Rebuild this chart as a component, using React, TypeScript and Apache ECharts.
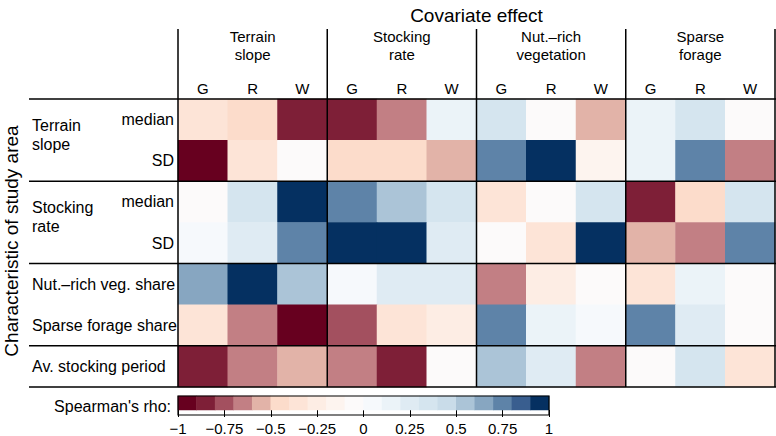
import React, { useEffect, useRef } from "react";
import * as echarts from "echarts";

// ---- data ----
const groups = ["Terrain\nslope", "Stocking\nrate", "Nut.–rich\nvegetation", "Sparse\nforage"];
const letters = ["G", "R", "W"];
const rowKeys = ["ts_median", "ts_sd", "sr_median", "sr_sd", "nut", "sparse", "period"];
const rowLabels = ["median", "SD", "median", "SD", "Nut.–rich veg. share", "Sparse forage share", "Av. stocking period"];
const rowGroupLabels = ["Terrain\nslope", "Stocking\nrate"];
const rowGroupStart = [0, 2];

const terrainSlopeMedian = [-0.35, -0.45, -0.85, -0.85, -0.65, 0.15, 0.35, -0.05, -0.55, 0.15, 0.35, -0.05];
const terrainSlopeSD = [-0.95, -0.35, -0.05, -0.45, -0.45, -0.55, 0.75, 0.95, -0.15, 0.15, 0.75, -0.65];
const stockingRateMedian = [-0.05, 0.35, 0.95, 0.75, 0.55, 0.35, -0.35, -0.05, 0.35, -0.85, -0.45, 0.35];
const stockingRateSD = [0.05, 0.25, 0.75, 0.95, 0.95, 0.25, -0.05, -0.35, 0.95, -0.55, -0.65, 0.75];
const nutRichShare = [0.65, 0.95, 0.55, 0.05, 0.25, 0.25, -0.65, -0.25, -0.05, -0.35, 0.15, -0.05];
const sparseForageShare = [-0.35, -0.65, -0.95, -0.75, -0.35, -0.25, 0.75, 0.15, 0.05, 0.75, 0.25, -0.05];
const avStockingPeriod = [-0.85, -0.65, -0.55, -0.65, -0.85, -0.05, 0.55, 0.25, -0.65, -0.05, 0.35, -0.35];
const rowValues = [terrainSlopeMedian, terrainSlopeSD, stockingRateMedian, stockingRateSD, nutRichShare, sparseForageShare, avStockingPeriod];

const binEdges = [-1, -0.9, -0.8, -0.7, -0.6, -0.5, -0.4, -0.3, -0.2, -0.1, 0, 0.1, 0.2, 0.3, 0.4, 0.5, 0.6, 0.7, 0.8, 0.9, 1];
const binMids = [-0.95, -0.85, -0.75, -0.65, -0.55, -0.45, -0.35, -0.25, -0.15, -0.05, 0.05, 0.15, 0.25, 0.35, 0.45, 0.55, 0.65, 0.75, 0.85, 0.95];
const binColors = [
  "#67001f", "#7e1f37", "#a3505f", "#c27f84", "#e2b3a8",
  "#fcdccb", "#fde4d7", "#fdede4", "#fdf4ef", "#fcfafa",
  "#f6f9fc", "#ebf3f8", "#dfebf3", "#d5e5ef", "#c9dce9",
  "#abc4d7", "#87a6c1", "#5e83a8", "#395e8f", "#053061",
];
const legendTicks = [-1, -0.75, -0.5, -0.25, 0, 0.25, 0.5, 0.75, 1];

// ---- layout ----
const W = 776;
const H = 436;
const GL = 178, GT = 99, GW = 597, GH = 288;
const LL = 178, LT = 396, LW = 371, LH = 19;
const FONT = "'Liberation Sans', Arial, Helvetica, sans-serif";

export default function App() {
  const ref = useRef<HTMLDivElement>(null);
  useEffect(() => {
    if (!ref.current) return;
    const chart = echarts.init(ref.current, null, { renderer: "svg" });

    const colKeys: string[] = [];
    groups.forEach((g, gi) => letters.forEach((l) => colKeys.push(gi + "|" + l)));

    const data: number[][] = [];
    rowValues.forEach((row, r) => row.forEach((v, c) => data.push([c, r, v])));
    const legendData = binMids.map((v, i) => [i, 0, v]);

    const pieces = binColors.map((color, i) => ({ min: binEdges[i], max: binEdges[i + 1], color }));

    const nRows = rowKeys.length;
    const rowH = GH / nRows;
    const graphics: any[] = [];
    for (let k = 0; k <= groups.length; k++) {
      const x = GL + (GW * k) / groups.length;
      graphics.push({ type: "line", z: 50, shape: { x1: x, y1: 29, x2: x, y2: GT + GH }, style: { stroke: "#000", lineWidth: 1.5 } });
    }
    [0, 2, 4, 6, 7].forEach((r) => {
      const y = GT + rowH * r;
      graphics.push({ type: "line", z: 50, shape: { x1: 29, y1: y, x2: W, y2: y }, style: { stroke: "#000", lineWidth: 1.5 } });
    });
    rowGroupLabels.forEach((t, i) => {
      graphics.push({
        type: "text", z: 50, x: 32, y: GT + rowH * (rowGroupStart[i] + 1) - 5,
        style: { text: t, fontSize: 16, lineHeight: 19, fontFamily: FONT, fill: "#000", textAlign: "left", textVerticalAlign: "middle" },
      });
    });
    graphics.push({
      type: "text", z: 50, x: GL + GW / 2, y: 15,
      style: { text: "Covariate effect", fontSize: 19, fontFamily: FONT, fill: "#000", textAlign: "center", textVerticalAlign: "middle" },
    });
    graphics.push({
      type: "text", z: 50, x: 11, y: GT + GH / 2 - 2, rotation: Math.PI / 2,
      style: { text: "Characteristic of study area", fontSize: 19, fontFamily: FONT, fill: "#000", textAlign: "center", textVerticalAlign: "middle" },
    });
    graphics.push({
      type: "text", z: 50, x: 171, y: LT + LH / 2 + 1,
      style: { text: "Spearman's rho:", fontSize: 16, fontFamily: FONT, fill: "#000", textAlign: "right", textVerticalAlign: "middle" },
    });
    graphics.push({
      type: "rect", z: 50, shape: { x: LL, y: LT, width: LW, height: LH },
      style: { fill: "none", stroke: "#000", lineWidth: 1.2 },
    });

    chart.setOption({
      animation: false,
      textStyle: { fontFamily: FONT, color: "#000" },
      grid: [
        { left: GL, top: GT, width: GW, height: GH },
        { left: LL, top: LT, width: LW, height: LH },
      ],
      xAxis: [
        {
          type: "category", gridIndex: 0, data: colKeys, position: "top",
          axisLine: { show: false }, axisTick: { show: false }, splitLine: { show: false },
          axisLabel: { formatter: (v: string) => v.split("|")[1], fontSize: 15, lineHeight: 18, margin: 2, color: "#000", interval: 0 },
        },
        {
          type: "category", gridIndex: 0, data: groups, position: "top",
          axisLine: { show: false }, axisTick: { show: false }, splitLine: { show: false },
          axisLabel: { fontSize: 15, lineHeight: 18, margin: 36, color: "#000", interval: 0 },
        },
        { type: "category", gridIndex: 1, data: binMids.map((_, i) => "b" + i), show: false },
        {
          type: "value", gridIndex: 1, min: -1, max: 1, interval: 0.25, position: "bottom",
          axisLine: { show: false }, splitLine: { show: false },
          axisTick: { show: true, length: 7, lineStyle: { color: "#000", width: 1 }, customValues: legendTicks },
          axisLabel: { fontSize: 15, margin: 11, color: "#000", formatter: (v: number) => String(v).replace("-", "−"), customValues: legendTicks },
        },
      ],
      yAxis: [
        {
          type: "category", gridIndex: 0, data: rowKeys, inverse: true,
          axisLine: { show: false }, axisTick: { show: false }, splitLine: { show: false },
          axisLabel: {
            margin: 4, fontSize: 16, color: "#000", interval: 0,
            formatter: (v: string, i: number) => (i < 4 ? rowLabels[i] : "{l|" + rowLabels[i] + "}"),
            rich: { l: { width: 142, align: "left", fontSize: 16, fontFamily: FONT, color: "#000" } },
          },
        },
        { type: "category", gridIndex: 1, data: ["rho"], show: false },
      ],
      visualMap: {
        type: "piecewise", show: false, dimension: 2, seriesIndex: [0, 1], pieces,
      },
      series: [
        { type: "heatmap", xAxisIndex: 0, yAxisIndex: 0, data, itemStyle: { borderWidth: 0 }, emphasis: { disabled: true } },
        { type: "heatmap", xAxisIndex: 2, yAxisIndex: 1, data: legendData, itemStyle: { borderWidth: 0 }, emphasis: { disabled: true } },
      ],
      graphic: { elements: graphics },
    });
    return () => chart.dispose();
  }, []);
  return <div ref={ref} style={{ position: "absolute", left: 0, top: 0, width: W, height: H }} />;
}
